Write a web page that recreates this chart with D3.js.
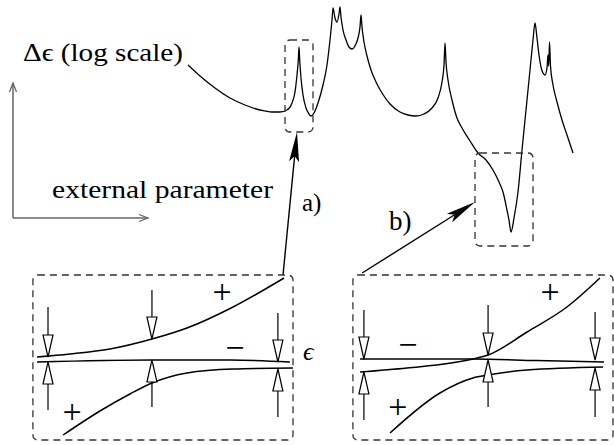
<!DOCTYPE html>
<html>
<head>
<meta charset="utf-8">
<script src="https://cdn.jsdelivr.net/npm/d3@7"></script>
<style>
  body { margin: 0; background: #fff; }
  svg { display: block; }
</style>
</head>
<body>
<svg id="chart"></svg>
<script>
// top curve: [external parameter, log delta eps] (arbitrary units)
const deltaCurve = [
  [0, 33.4], [1.2, 31.2], [2.7, 28.8], [4.2, 26.8], [5.7, 25.4], [7.2, 24.4], [8.4, 24], [9.2, 24],
  [9.9, 24.4], [10.4, 25.8], [10.7, 28], [10.9, 31.4], [11.03, 34.4], [11.1, 37], [11.17, 34.4],
  [11.3, 30.8], [11.5, 27.4], [11.8, 24.8], [12.1, 23.6], [12.3, 23.2], [12.6, 23.8], [13.0, 25.8],
  [13.5, 29.4], [13.9, 33.4], [14.2, 38.4], [14.4, 42.4], [14.5, 44.8], [14.7, 42.8], [14.9, 42],
  [15.1, 43.6], [15.2, 45], [15.3, 43], [15.5, 40.4], [15.8, 38.4], [16.1, 37], [16.4, 36.6],
  [16.7, 37.2], [17.0, 38.8], [17.2, 41], [17.3, 43.4], [17.4, 41], [17.6, 38], [17.9, 35.2],
  [18.3, 32.4], [18.8, 30], [19.4, 27.8], [20.2, 25.6], [21.2, 24], [22.0, 23.4], [22.8, 23.2],
  [23.6, 23.6], [24.4, 24.8], [25.0, 26.8], [25.4, 30], [25.6, 33.4], [25.7, 37.8], [25.8, 34],
  [26.0, 30.4], [26.4, 26.4], [26.9, 22.8], [27.4, 20.8], [28.2, 18.2], [29.0, 15.8], [29.8, 14.4],
  [30.5, 12.4], [31.1, 10], [31.5, 8], [31.9, 4.4], [32.1, 2.4], [32.3, 0], [32.6, 2.8], [33.0, 8],
  [33.4, 16.4], [33.8, 24.4], [34.2, 32.4], [34.5, 38.4], [34.7, 41.8], [34.9, 38.8], [35.1, 35.4],
  [35.3, 33], [35.5, 31.8], [35.7, 31.4], [35.9, 32.8], [36.0, 35.4], [36.07, 33.2], [36.15, 38],
  [36.25, 33.2], [36.5, 29.4], [36.9, 26], [37.4, 22.4], [37.9, 19.4], [38.5, 15.8]
]
// zoom boxes on the top curve: [x0, x1, y0, y1]
const zoomBoxes = [[9.7, 12.5, 20, 38.4], [28.7, 34.5, -2.8, 15.8]]

// level panels: [u, eps]
const panelA = {
  upper: [[0, 1], [1.29, 1.6], [2.85, 2.6], [4.49, 4.6], [5.86, 6.8], [7.66, 11], [9.65, 16.8]],
  middle: [[0, 0], [4.49, 0.4], [7.54, 0.4], [9.88, 0]],
  lower: [[1.02, -14.6], [2.46, -9.8], [3.63, -6.4], [4.49, -4.2], [5.86, -2.2], [7.66, -1.4], [10, -1.2]],
  // [u, tail, tip]
  down: [[0.43, 11, 1], [4.49, 14.4, 4.6], [9.41, 9.8, 0]],
  up: [[0.43, -9.6, 0], [4.49, -9, 0.4], [9.41, -11, -1.4]],
  signs: [["+", 7.23, 14], ["\u2212", 7.73, 2.8], ["+", 1.37, -10]]
}
const panelB = {
  upper: [[0.12, -2], [1.95, -1.2], [4.53, 0.6], [5.12, 1.4], [6.64, 6], [8.2, 11], [9.49, 16.8]],
  middle: [[0.12, 0.6], [4.5, 0.6], [7, 0.3], [9.65, 0]],
  lower: [[1.29, -14.2], [3.24, -6.2], [4.53, -3.2], [5.12, -2.6], [6.64, -1.6], [9.61, -1]],
  down: [[0.27, 10.4, 0.6], [5.12, 11.4, 1.4], [9.3, 10, 0.4]],
  up: [[0.27, -11.6, -2], [5.12, -9, 0.4], [9.3, -11, -1.2]],
  signs: [["+", 7.54, 14], ["\u2212", 1.99, 3.4], ["+", 1.6, -9]]
}
const panelBox = [-0.16, 10, -15.6, 17.4]

const serif = "Liberation Serif"
const w = 614
const h = 445
const svg = d3.select("#chart").attr("width", w).attr("height", h)
svg.append("rect").attr("width", w).attr("height", h).attr("fill", "#fff")

const x = d3.scaleLinear().domain([0, 40]).range([188, 588])
const y = d3.scaleLinear().domain([0, 45]).range([232, 7])
const yBand = d3.scaleLinear().domain([-10, 10]).range([412, 312])
const xA = d3.scaleLinear().domain([0, 10]).range([37, 293])
const xB = d3.scaleLinear().domain([0, 10]).range([357, 613])

function label(px, py, size, str) {
  return svg.append("text").attr("x", px).attr("y", py)
    .attr("font-family", serif).attr("font-size", size).attr("fill", "#000")
    .text(str)
}

function dashedBox(x0, x1, y0, y1) {
  svg.append("rect")
    .attr("x", Math.min(x0, x1)).attr("y", Math.min(y0, y1))
    .attr("width", Math.abs(x1 - x0)).attr("height", Math.abs(y1 - y0))
    .attr("rx", 5)
    .attr("fill", "none")
    .attr("stroke", "#333")
    .attr("stroke-width", 1.3)
    .attr("stroke-dasharray", "7,5")
}

// top curve
svg.append("path")
  .datum(deltaCurve)
  .attr("fill", "none")
  .attr("stroke", "#000")
  .attr("stroke-width", 1.3)
  .attr("d", d3.line().x(d => x(d[0])).y(d => y(d[1])).curve(d3.curveMonotoneX))

zoomBoxes.forEach(b => dashedBox(x(b[0]), x(b[1]), y(b[2]), y(b[3])))

// schematic axes
const axisColor = "#666"
function openArrow(x1, y1, x2, y2) {
  const a = Math.atan2(y2 - y1, x2 - x1)
  svg.append("line").attr("x1", x1).attr("y1", y1).attr("x2", x2).attr("y2", y2)
    .attr("stroke", axisColor).attr("stroke-width", 1.5)
  const p = [-1, 1].map(s => [x2 - 9 * Math.cos(a) + s * 3.5 * Math.sin(a), y2 - 9 * Math.sin(a) - s * 3.5 * Math.cos(a)])
  svg.append("path")
    .attr("d", `M${p[0]}L${x2},${y2}L${p[1]}`)
    .attr("fill", "none").attr("stroke", axisColor).attr("stroke-width", 1.3)
}
openArrow(13, 218, 13, 83)
openArrow(13, 218, 148, 218)

label(23, 61, 26, "\u0394\u03f5 (log scale)")
  .attr("textLength", 160).attr("lengthAdjust", "spacingAndGlyphs")
label(52, 198, 26, "external parameter")
  .attr("textLength", 221).attr("lengthAdjust", "spacingAndGlyphs")

// pointer arrows to the zoom boxes
function pointer(x1, y1, x2, y2) {
  const a = Math.atan2(y2 - y1, x2 - x1)
  const c = Math.cos(a), s = Math.sin(a)
  const nx = x2 - 24 * c, ny = y2 - 24 * s
  svg.append("line").attr("x1", x1).attr("y1", y1).attr("x2", nx).attr("y2", ny)
    .attr("stroke", "#000").attr("stroke-width", 1.4)
  const bl = [x2 - 30 * c + 5 * s, y2 - 30 * s - 5 * c]
  const br = [x2 - 30 * c - 5 * s, y2 - 30 * s + 5 * c]
  svg.append("path")
    .attr("d", `M${x2},${y2}L${bl}L${nx},${ny}L${br}Z`)
    .attr("fill", "#000")
}
pointer(xA(9.61), yBand(panelBox[3]), x(10.9), y(20))
pointer(xB(0.2), yBand(17.8), x(28.7), y(6))
label(302, 211, 25, "a)")
label(389, 230, 27, "b)")

// level panels
function drawPanel(p, xs) {
  dashedBox(xs(panelBox[0]), xs(panelBox[1]), yBand(panelBox[2]), yBand(panelBox[3]))
  const lvl = d3.line().x(d => xs(d[0])).y(d => yBand(d[1])).curve(d3.curveMonotoneX)
  ;[p.upper, p.middle, p.lower].forEach(c => {
    svg.append("path").datum(c).attr("d", lvl)
      .attr("fill", "none").attr("stroke", "#000").attr("stroke-width", 1.5)
  })
  const tri = (d, dir) => {
    const cx = xs(d[0]), tail = yBand(d[1]), tip = yBand(d[2])
    const base = tip - dir * 22
    svg.append("line").attr("x1", cx).attr("x2", cx).attr("y1", tail).attr("y2", base)
      .attr("stroke", "#000").attr("stroke-width", 1.2)
    svg.append("path")
      .attr("d", `M${cx - 5},${base}L${cx + 5},${base}L${cx},${tip}Z`)
      .attr("fill", "#fff").attr("stroke", "#000").attr("stroke-width", 1.2)
  }
  p.down.forEach(d => tri(d, 1))
  p.up.forEach(d => tri(d, -1))
  p.signs.forEach(d => {
    label(xs(d[1]), yBand(d[2]), 34, d[0])
      .attr("dy", "0.32em").attr("text-anchor", "middle")
  })
}
drawPanel(panelA, xA)
drawPanel(panelB, xB)

label(303, 360, 26, "\u03f5").attr("font-style", "italic")
</script>
</body>
</html>
